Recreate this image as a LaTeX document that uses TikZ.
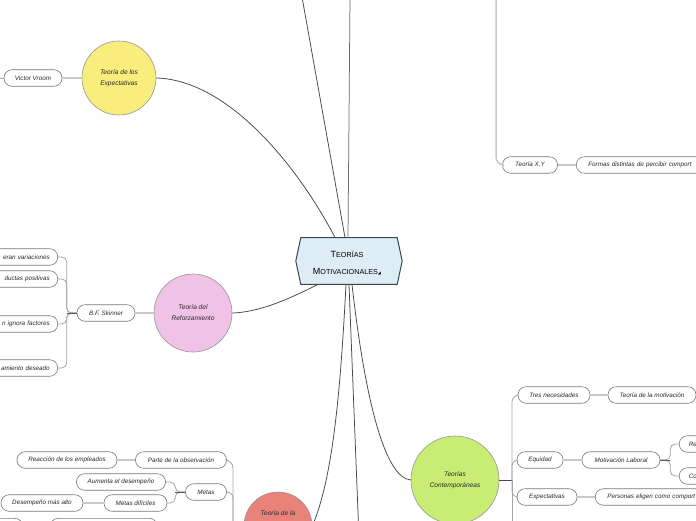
\documentclass[tikz,border=0pt]{standalone}
\usepackage{fontspec}
\setmainfont{Liberation Sans}
\newfontfamily\dejavu{DejaVu Sans}
\definecolor{pillc}{RGB}{120,120,120}
\definecolor{circc}{RGB}{150,150,150}
\definecolor{mainc}{RGB}{70,70,70}
\definecolor{linkc}{RGB}{200,200,200}
\definecolor{brc}{RGB}{165,165,165}
\definecolor{txt}{RGB}{40,40,40}
\definecolor{yel}{RGB}{249,237,125}
\definecolor{pnk}{RGB}{240,194,230}
\definecolor{sal}{RGB}{233,131,122}
\definecolor{grnc}{RGB}{200,236,116}
\definecolor{ctrfill}{RGB}{222,237,245}
\definecolor{ctrline}{RGB}{55,70,78}
\tikzset{
  pill/.style={draw=pillc, fill=white, line width=0.6pt, rounded corners=8pt, minimum height=16.5pt, inner sep=0pt, font=\itshape\fontsize{6.3}{7}\selectfont, text=txt},
  cutl/.style={pill, anchor=east, text width=90pt, align=right, inner xsep=8pt},
  cutr/.style={pill, anchor=west, text width=120pt, align=left, inner xsep=12pt},
  bubble/.style={circle, draw=circc, line width=0.6pt, inner sep=0pt, font=\itshape\fontsize{6.6}{11}\selectfont, align=center, text=txt},
  main/.style={draw=mainc, line width=0.75pt},
  link/.style={draw=linkc, line width=1.6pt},
  br/.style={draw=brc, line width=0.8pt, rounded corners=5pt},
}
\begin{document}
\begin{tikzpicture}[x=1pt,y=-1pt]
\useasboundingbox (0,0) rectangle (696,520);
\fill[white] (0,0) rectangle (696,520);
\clip (0,0) rectangle (696,520);

% free ends
\coordinate (t1) at (302,-3);
\coordinate (t2) at (350,-3);
\coordinate (tg) at (496,-3);
\coordinate (b3) at (358.5,525);
\coordinate (vl) at (-5,78);
\coordinate (rb) at (233,540);
\coordinate (gb) at (512,530);

% centre
\node[minimum width=96pt, minimum height=46.5pt, inner sep=0pt] (ctr) at (349,261) {};
\filldraw[fill=ctrfill, draw=ctrline, line width=1pt]
  (ctr.north west) -- (ctr.north east) -- ([xshift=5pt]ctr.east) -- (ctr.south east)
  -- (ctr.south west) -- ([xshift=-5pt]ctr.west) -- cycle;
\node[align=center, text=black, font=\fontsize{7.2}{17}\selectfont] (ctrt) at (347,263)
  {{\fontsize{9}{9}\selectfont T}EORÍAS\\{\fontsize{9}{9}\selectfont M}OTIVACIONALES{\dejavu\fontsize{4}{4}\selectfont ◢}};

% circles
\node[bubble, fill=yel, minimum size=74pt] (expc) at (119,78) {Teoría de los\\Expectativas};
\node[bubble, fill=pnk, minimum size=78pt] (refz) at (193,313) {Teoría del\\Reforzamiento};
\node[bubble, fill=sal, minimum size=68pt] (redc) at (278,526) {};
\node[font=\itshape\fontsize{6.6}{8}\selectfont, text=txt] (redt) at (278,513) {Teoría de la};
\node[bubble, fill=grnc, minimum size=88pt] (grn) at (455,480) {Teorías\\Contemporáneas};

% main connectors
\draw[main] (expc.east) .. controls (230,80) and (300,170) .. ([xshift=-14pt]ctr.north);
\draw[main] ([xshift=-4pt]ctr.north) -- (t1);
\draw[main, draw=mainc!80] ([xshift=-1pt]ctr.north) -- (t2);
\draw[main] (refz.east) .. controls (265,312) and (300,293) .. ([xshift=-31pt]ctr.south);
\draw[main] ([xshift=-3pt]ctr.south) .. controls (340,400) and (332,480) .. (redc.east);
\draw[main] (ctr.south) -- (b3);
\draw[main] ([xshift=3pt]ctr.south) .. controls (365,400) and (385,478) .. (grn.west);

% top right
\node[pill, minimum width=55pt] (xy) at (530,165) {Teoría X,Y};
\node[cutr] (formas) at (576,165) {Formas distintas de percibir comport};
\draw[draw=linkc, line width=1.5pt, rounded corners=8pt] (tg) |- (xy.west);
\draw[link] (xy.east) -- (formas.west);

% Vroom
\node[pill, minimum width=58pt] (vroom) at (33,78) {Victor Vroom};
\draw[link] (vroom.east) -- (expc.west);
\draw[br] (vroom.west) -- (vl);

% Skinner
\node[pill, minimum width=58pt] (skin) at (106,313) {B.F. Skinner};
\draw[link] (skin.east) -- (refz.west);
\node[cutl] (s1) at (58,257) {eran variaciones};
\node[cutl] (s2) at (58,279) {ductas positivas};
\node[cutl] (s3) at (58,324) {n ignora factores};
\node[cutl] (s4) at (58,368) {amiento deseado};
\foreach \n in {s1,s2,s3,s4}
  \draw[br] (skin.west) -- ++(-10pt,0) |- (\n.east);
\draw[main, draw=mainc!90] (skin.west) -- ++(-10pt,0);

% red tree
\node[pill, minimum width=91pt] (pto) at (181,460) {Parte de la observación};
\node[pill, minimum width=100pt] (reac) at (67,460) {Reacción de los empleados};
\node[pill, minimum width=41pt] (metas) at (206,492) {Metas};
\node[pill, minimum width=89pt] (aum) at (121,482) {Aumenta el desempeño};
\node[pill, minimum width=63pt] (mdif) at (135.5,503) {Metas difíciles};
\node[pill, minimum width=82pt] (dma) at (42,503) {Desempeño más alto};
\node[pill, minimum width=40pt, anchor=north east] (p1) at (23,518) {};
\node[pill, minimum width=107pt, anchor=north west] (p2) at (50,518) {};
\draw[link] (reac.east) -- (pto.west);
\draw[link] (dma.east) -- (mdif.west);
\draw[br, rounded corners=8pt] (pto.east) -| (rb);
\draw[br, rounded corners=6pt] (metas.east) -| (rb);
\draw[br] (metas.west) -- ++(-10pt,0) |- (aum.east);
\draw[br] (metas.west) -- ++(-10pt,0) |- (mdif.east);
\draw[main, draw=mainc!90] (metas.west) -- ++(-10pt,0);

% green tree
\node[pill, minimum width=72pt] (tres) at (554,395) {Tres necesidades};
\node[pill, minimum width=88pt] (tmot) at (652,395) {Teoría de la motivación};
\node[pill, minimum width=46pt] (equi) at (540,460) {Equidad};
\node[pill, minimum width=78pt] (mlab) at (621,460) {Motivación Laboral};
\node[cutr, text width=40pt, inner xsep=9.5pt] (re) at (679,444) {Re};
\node[cutr, text width=40pt, inner xsep=9.5pt] (co) at (679,476) {Co};
\node[pill, minimum width=60pt] (expe) at (547,497) {Expectativas};
\node[cutr] (pers) at (595,497) {Personas eligen como comport};
\draw[main] (grn.east) -- (512,480);
\draw[br, rounded corners=7pt] (512,480) |- (tres.west);
\draw[br, rounded corners=6pt] (512,480) |- (equi.west);
\draw[br, rounded corners=6pt] (512,480) |- (expe.west);
\draw[br] (512,480) -- (gb);
\draw[link] (tres.east) -- (tmot.west);
\draw[link] (equi.east) -- (mlab.west);
\draw[link] (expe.east) -- (pers.west);
\draw[br] (mlab.east) -- ++(10pt,0) |- (re.west);
\draw[br] (mlab.east) -- ++(10pt,0) |- (co.west);
\draw[main, draw=mainc!90] (mlab.east) -- ++(10pt,0);
\end{tikzpicture}
\end{document}
